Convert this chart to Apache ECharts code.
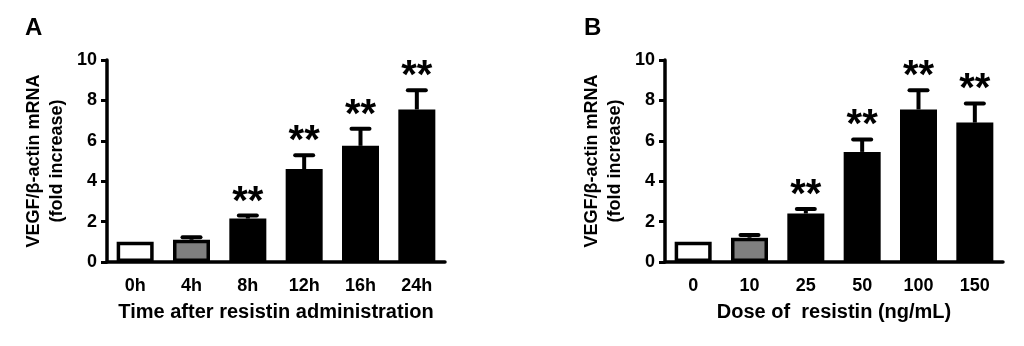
<!DOCTYPE html>
<html><head><meta charset="utf-8">
<script src="https://cdn.jsdelivr.net/npm/echarts@6/dist/echarts.min.js"></script>
<style>html,body{margin:0;padding:0;background:#fff}#c{width:1024px;height:346px}</style>
</head><body><div id="c"></div>
<script>
const timeCategories = ['0h', '4h', '8h', '12h', '16h', '24h'];
const timeValues = [1.0, 1.1, 2.15, 4.6, 5.75, 7.55];
const timeErrors = [0, 0.12, 0.15, 0.68, 0.85, 0.95];
const timeSig = ['', '', '**', '**', '**', '**'];
const doseCategories = ['0', '10', '25', '50', '100', '150'];
const doseValues = [1.0, 1.2, 2.4, 5.45, 7.55, 6.9];
const doseErrors = [0, 0.14, 0.22, 0.62, 0.95, 0.95];
const doseSig = ['', '', '**', '**', '**', '**'];
const barFills = ['#ffffff', '#7f7f7f', '#000000', '#000000', '#000000', '#000000'];
const yMin = 0, yMax = 10, yStep = 2;
const yName = 'VEGF/\u03b2-actin mRNA\n(fold increase)';
const xNameA = 'Time after resistin administration';
const xNameB = 'Dose of  resistin (ng/mL)';

const FONT = '"Liberation Sans", Arial, sans-serif';
const chart = echarts.init(document.getElementById('c'), null, {renderer: 'canvas'});

function errRender(sig) {
  return function (params, api) {
    const x = api.value(0), v = api.value(1), e = api.value(2);
    const base = api.coord([x, v]);
    const top = api.coord([x, v + e]);
    const children = [];
    if (e > 0) {
      children.push({type: 'line', shape: {x1: base[0], y1: base[1], x2: top[0], y2: top[1]},
        style: {stroke: '#000', lineWidth: 4}});
      children.push({type: 'line', shape: {x1: top[0] - 9, y1: top[1], x2: top[0] + 9, y2: top[1]},
        style: {stroke: '#000', lineWidth: 4, lineCap: 'round'}});
    }
    const s = sig[params.dataIndex];
    if (s) {
      children.push({type: 'text', x: top[0], y: top[1] - 13,
        style: {text: s, fill: '#000', font: 'bold 40px ' + FONT, align: 'center', verticalAlign: 'middle'}});
    }
    return {type: 'group', children: children};
  };
}

function xAxisCfg(idx, cats, name) {
  return {
    type: 'category', gridIndex: idx, data: cats, name: name,
    nameLocation: 'middle', nameGap: 40,
    nameTextStyle: {fontFamily: FONT, fontWeight: 'bold', fontSize: 20, color: '#000'},
    axisLine: {lineStyle: {color: '#000', width: 3.5}},
    axisTick: {alignWithLabel: true, length: 7, lineStyle: {color: '#000', width: 3}},
    axisLabel: {fontFamily: FONT, fontWeight: 'bold', fontSize: 18, color: '#000', margin: 15}
  };
}
function yAxisCfg(idx) {
  return {
    type: 'value', gridIndex: idx, min: yMin, max: yMax, interval: yStep,
    name: yName, nameLocation: 'middle', nameGap: 38, nameRotate: 90,
    nameTextStyle: {fontFamily: FONT, fontWeight: 'bold', fontSize: 18, color: '#000', lineHeight: 23, align: 'center'},
    splitLine: {show: false},
    axisLine: {show: true, lineStyle: {color: '#000', width: 3.5}},
    axisTick: {show: true, length: 6, lineStyle: {color: '#000', width: 3}},
    axisLabel: {fontFamily: FONT, fontWeight: 'bold', fontSize: 18, color: '#000', margin: 10}
  };
}
function barSeries(idx, vals) {
  return {
    type: 'bar', xAxisIndex: idx, yAxisIndex: idx, barWidth: 37,
    data: vals.map((v, i) => ({value: v, itemStyle: {color: barFills[i]}})),
    itemStyle: {borderColor: '#000', borderWidth: 3.5},
    z: 2
  };
}
function errSeries(idx, vals, errs, sig) {
  return {
    type: 'custom', xAxisIndex: idx, yAxisIndex: idx,
    data: vals.map((v, i) => [i, v, errs[i]]),
    renderItem: errRender(sig), z: 3
  };
}

chart.setOption({
  backgroundColor: '#fff',
  animation: false,
  grid: [
    {left: 107, right: 579, top: 60, bottom: 84},
    {left: 665, right: 21, top: 60, bottom: 84}
  ],
  xAxis: [xAxisCfg(0, timeCategories, xNameA), xAxisCfg(1, doseCategories, xNameB)],
  yAxis: [yAxisCfg(0), yAxisCfg(1)],
  graphic: [
    {type: 'text', left: 25, top: 16, style: {text: 'A', font: 'bold 24px ' + FONT, fill: '#000'}},
    {type: 'text', left: 584, top: 16, style: {text: 'B', font: 'bold 24px ' + FONT, fill: '#000'}}
  ],
  series: [
    barSeries(0, timeValues), errSeries(0, timeValues, timeErrors, timeSig),
    barSeries(1, doseValues), errSeries(1, doseValues, doseErrors, doseSig)
  ]
});
</script></body></html>
